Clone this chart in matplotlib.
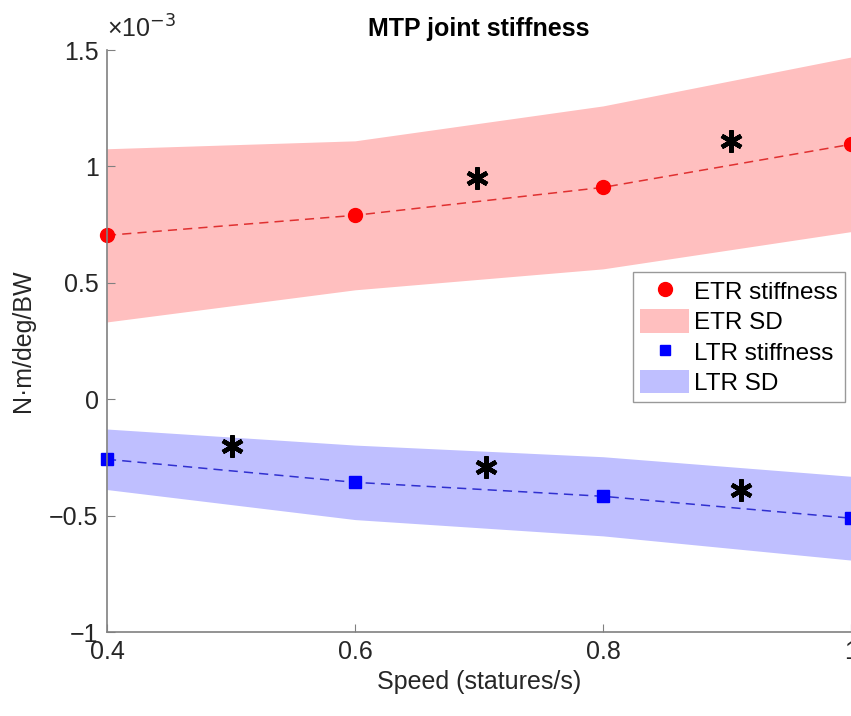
import matplotlib
matplotlib.use('Agg')
import matplotlib.pyplot as plt
from matplotlib.lines import Line2D
from matplotlib.patches import Patch
from matplotlib.ticker import FuncFormatter
import numpy as np

plt.rcParams['font.family'] = ['Liberation Sans', 'DejaVu Sans']

speed = np.array([0.4, 0.6, 0.8, 1.0])
etr_mean = np.array([0.704, 0.790, 0.910, 1.095]) * 1e-3
etr_sd = np.array([0.372, 0.320, 0.350, 0.375]) * 1e-3
ltr_mean = np.array([-0.258, -0.357, -0.417, -0.511]) * 1e-3
ltr_sd = np.array([0.130, 0.160, 0.170, 0.180]) * 1e-3

star_x = [0.698, 0.903, 0.501, 0.706, 0.911]
star_y = np.array([0.95, 1.11, -0.20, -0.29, -0.39]) * 1e-3

grey = '#262626'

fig = plt.figure(figsize=(8.51, 7.16), dpi=100)
ax = fig.add_axes([0.1257, 0.1173, 0.8743, 0.8128])

ax.fill_between(speed, etr_mean - etr_sd, etr_mean + etr_sd, color='#ffbfbf', lw=0)
ax.fill_between(speed, ltr_mean - ltr_sd, ltr_mean + ltr_sd, color='#bfbfff', lw=0)
ax.plot(speed, etr_mean, color='#e03030', lw=1.1, dashes=(6, 4), marker='o', ms=10,
        mfc='red', mec='red', clip_on=False)
ax.plot(speed, ltr_mean, color='#3030d0', lw=1.1, dashes=(6, 4), marker='s', ms=8,
        mfc='blue', mec='blue', clip_on=False)
ax.plot(star_x, star_y, linestyle='none', marker=(6, 2, 0), ms=16, mew=3.2, color='black')

ax.set_xlim(0.4, 1.0)
ax.set_ylim(-1e-3, 1.5e-3)
ax.set_xticks([0.4, 0.6, 0.8, 1.0])
ax.set_xticklabels(['0.4', '0.6', '0.8', '1'])
ax.set_yticks(np.arange(-1, 1.51, 0.5) * 1e-3)
ax.yaxis.set_major_formatter(FuncFormatter(
    lambda v, p: ('%g' % round(v * 1e3, 2)).replace('-', '\u2212')))
ax.tick_params(direction='in', length=6, width=0.8, colors='#808080',
               labelcolor=grey, labelsize=18, pad=6)
for s in ['top', 'right']:
    ax.spines[s].set_visible(False)
for s in ['left', 'bottom']:
    ax.spines[s].set_color('#808080')
    ax.spines[s].set_linewidth(1.2)

ax.text(0.0, 1.012, '\u00d710$^{-3}$', transform=ax.transAxes, fontsize=18,
        color=grey, ha='left', va='bottom')
ax.set_title('MTP joint stiffness', fontsize=18, fontweight='bold', pad=10)
ax.set_xlabel('Speed (statures/s)', fontsize=18, color=grey, labelpad=4)
ax.set_ylabel('N\u00b7m/deg/BW', fontsize=18, color=grey, labelpad=10)

handles = [
    Line2D([], [], linestyle='none', marker='o', ms=10, color='red'),
    Patch(facecolor='#ffbfbf', edgecolor='none'),
    Line2D([], [], linestyle='none', marker='s', ms=7, color='blue'),
    Patch(facecolor='#bfbfff', edgecolor='none'),
]
labels = ['ETR stiffness', 'ETR SD', 'LTR stiffness', 'LTR SD']
leg = ax.legend(handles, labels, loc='upper left', bbox_to_anchor=(0.707, 0.619),
                fontsize=17.5, frameon=True, fancybox=False, handlelength=2.0,
                handleheight=1.1, handletextpad=0.2, borderpad=0.3,
                labelspacing=0.22, borderaxespad=0)
leg.get_frame().set_edgecolor('#808080')
leg.get_frame().set_linewidth(1.0)

fig.savefig('out.png', dpi=100)
